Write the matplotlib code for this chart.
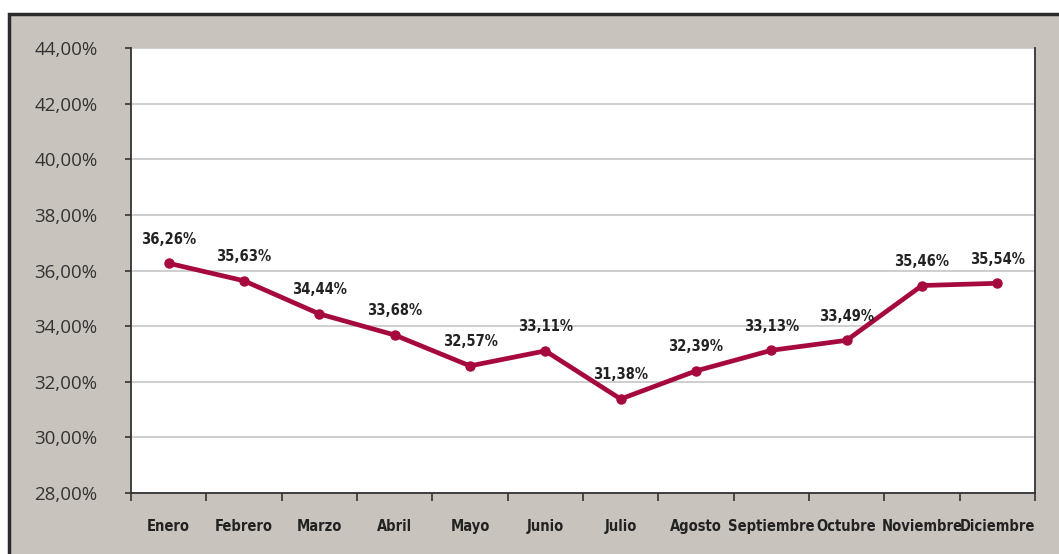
import matplotlib
matplotlib.use("Agg")
import matplotlib.pyplot as plt
from matplotlib.patches import Rectangle
from matplotlib.ticker import FuncFormatter, MultipleLocator

meses = ["Enero", "Febrero", "Marzo", "Abril", "Mayo", "Junio", "Julio",
         "Agosto", "Septiembre", "Octubre", "Noviembre", "Diciembre"]
valores = [36.26, 35.63, 34.44, 33.68, 32.57, 33.11, 31.38,
           32.39, 33.13, 33.49, 35.46, 35.54]

FONDO = "#c9c3bd"
ROJO = "#a6093d"
plt.rcParams['font.family'] = ['DejaVu Sans']

fig = plt.figure(figsize=(10.59, 5.54), dpi=100)
fig.patch.set_facecolor("white")
W, H = 1059, 554

# marco gris con borde oscuro
fig.patches.append(Rectangle((9 / W, -0.05), 1.1, (H - 14) / H + 0.05,
                             transform=fig.transFigure, facecolor=FONDO,
                             edgecolor="#2b2b2b", linewidth=2.5, zorder=-5))

ax = fig.add_axes([131 / W, 1 - 493 / H, (1035 - 131) / W, (493 - 48) / H])
ax.set_facecolor("white")

x = list(range(len(meses)))
ax.plot(x, valores, color=ROJO, linewidth=3.4, marker="o", markersize=6.5,
        zorder=3, clip_on=False)

for xi, v in zip(x, valores):
    ax.annotate(f"{v:.2f}%".replace(".", ","), (xi, v), xytext=(0, 12),
                textcoords="offset points", ha="center", va="bottom",
                fontsize=10.5, fontweight="bold", fontstretch="condensed",
                color="#222222")

ax.set_xlim(-0.5, len(meses) - 0.5)
ax.set_ylim(28, 44)
ax.yaxis.set_major_locator(MultipleLocator(2))
ax.yaxis.set_major_formatter(FuncFormatter(lambda v, p: f"{v:.2f}%".replace(".", ",")))
ax.grid(axis="y", color="#c6c6c6", linewidth=1.2)
ax.set_axisbelow(True)

ax.set_xticks([i - 0.5 for i in range(len(meses) + 1)], minor=False)
ax.set_xticklabels([])
ax.set_xticks(x, minor=True)
ax.set_xticklabels(meses, minor=True, fontsize=10.5, fontweight="bold",
                   fontstretch="condensed", color="#222222")
ax.tick_params(axis="x", which="major", length=6, width=1.2, color="#333333")
ax.tick_params(axis="x", which="minor", length=0, pad=19)
ax.tick_params(axis="y", length=4, width=1.2, color="#333333", labelsize=13.5,
               labelcolor="#333333", pad=20)
for lab in ax.get_yticklabels():
    lab.set_family(['Open Sans', 'DejaVu Sans'])

for s in ["left", "bottom", "right"]:
    ax.spines[s].set_color("#333333")
    ax.spines[s].set_linewidth(1.3)
ax.spines["top"].set_visible(False)

fig.savefig("out.png", dpi=100, facecolor=fig.get_facecolor())
